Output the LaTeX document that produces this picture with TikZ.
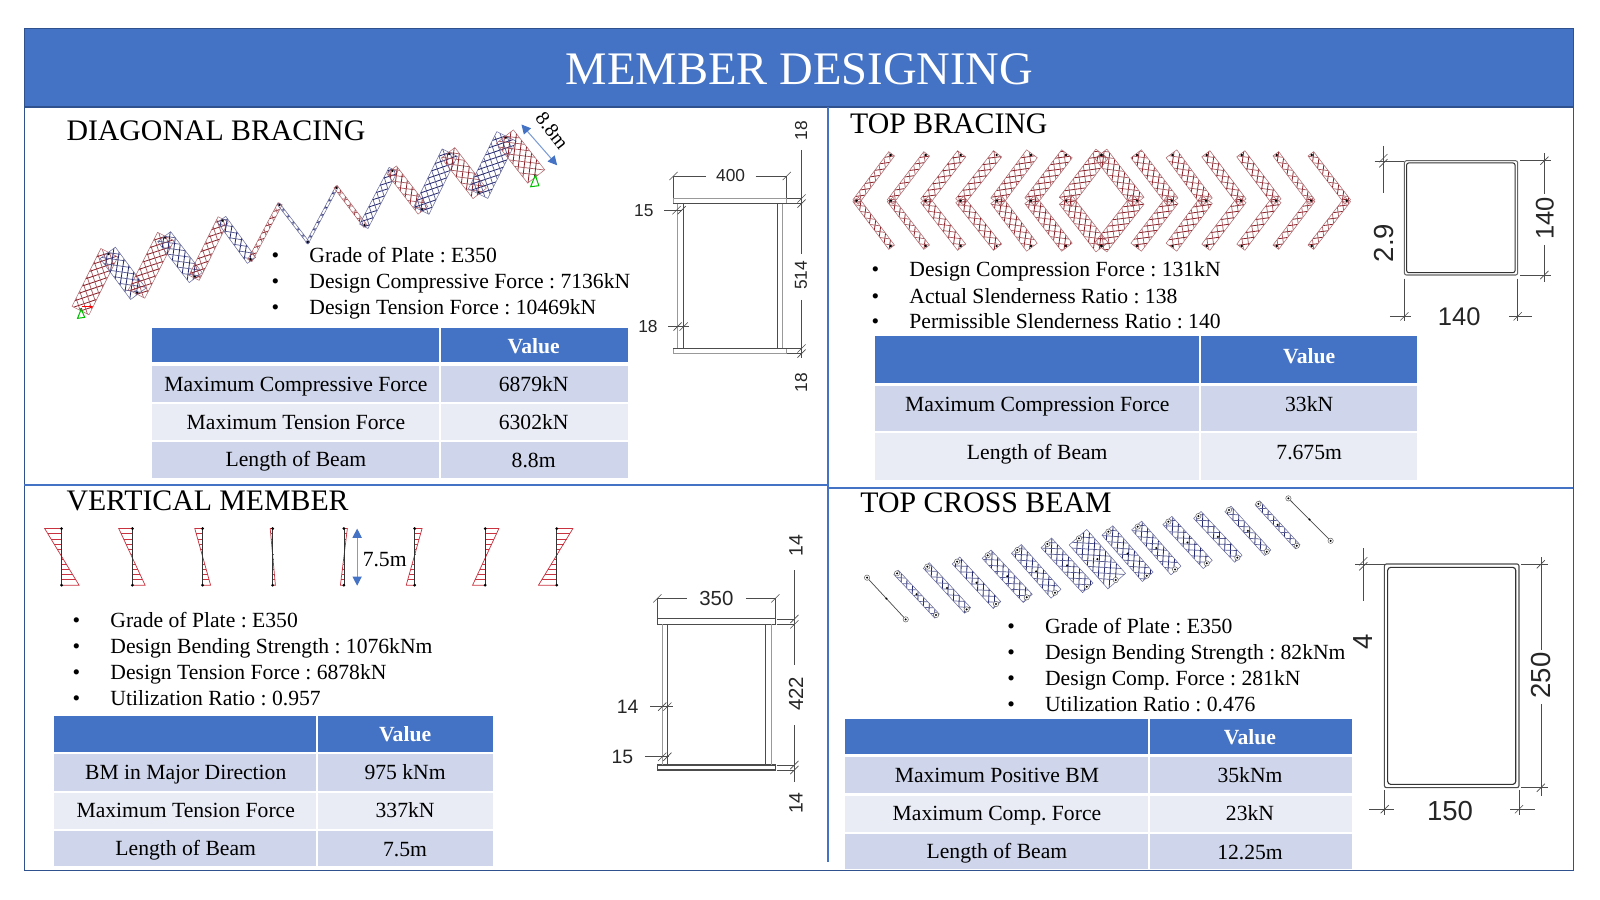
\documentclass[tikz,border=0pt]{standalone}
\usepackage{fontspec}
\setmainfont{Liberation Serif}
\newfontfamily\dimfont{Liberation Sans}
\frenchspacing
\usetikzlibrary{arrows.meta}
\definecolor{bandblue}{HTML}{4472C4}
\definecolor{frameblue}{HTML}{2F528F}
\definecolor{rowdark}{HTML}{CFD5EA}
\definecolor{rowlight}{HTML}{E9EBF5}
\definecolor{memred}{HTML}{8A2229}
\definecolor{memblue}{HTML}{24286E}
\definecolor{momentred}{HTML}{C9333F}
\tikzset{
  secthead/.style={anchor=west,inner sep=0pt,font=\fontsize{29.2}{34}\selectfont},
  bodyline/.style={anchor=west,inner sep=0pt,text height=19pt,text depth=5pt,font=\frenchspacing\fontsize{21.2}{25}\selectfont},
  cellhead/.style={inner sep=0pt,text=white,text height=19pt,text depth=5pt,font=\bfseries\fontsize{21.2}{25}\selectfont},
  celltext/.style={inner sep=0pt,text height=19pt,text depth=5pt,font=\frenchspacing\fontsize{21.2}{25}\selectfont},
  dimtext/.style={inner sep=0pt,text=black!85,font=\dimfont\fontsize{#1}{#1}\selectfont},
  dimline/.style={draw=black!70,line width=0.6pt},
  platein/.style={draw=black!70,line width=1pt},
  plateout/.style={draw=black!40,line width=1pt},
  sizearrow/.style={draw=bandblue!70,line width=1pt,{Triangle[color=bandblue,length=9pt,width=9pt]}-{Triangle[color=bandblue,length=9pt,width=9pt]}},
}
% one hatched force strip along a member: x1 y1 x2 y2 half-width colour
\newcommand{\hatchbar}[6]{
  \pgfmathsetmacro{\barlen}{veclen(#3-#1,#4-#2)}
  \pgfmathsetmacro{\barang}{atan2(#2-#4,#3-#1)}
  \pgfmathtruncatemacro{\barn}{\barlen/8+1}
  \begin{scope}[shift={(#1,#2)},rotate=\barang]
    \begin{scope}
      \clip (-1.5,-#5) rectangle (\barlen+1.5,#5);
      \foreach \k in {0,...,\barn}{
        \draw[#6,line width=0.8pt] (\k*8-#5-2,-#5) -- (\k*8+#5-2,#5);
        \draw[#6!75,line width=0.7pt] (\k*8+#5-2,-#5) -- (\k*8-#5-2,#5);
      }
    \end{scope}
    \draw[#6!70,line width=0.5pt] (-1.5,-#5) rectangle (\barlen+1.5,#5);
  \end{scope}
}
% moment diagram of one column: x, top offset, bottom offset
\newcommand{\momentdia}[3]{
  \foreach \t in {0.09,0.18,...,0.95}{
    \draw[momentred,line width=0.5pt] (#1,518+55.5*\t) -- ({#1+(#2)+((#3)-(#2))*\t},518+55.5*\t);
  }
  \draw[momentred,line width=0.7pt] (#1,518) -- (#1+#2,518) -- (#1+#3,573.5) -- (#1,573.5);
  \draw[black!80,line width=0.6pt] (#1,518) -- (#1,573.5);
  \fill (#1,518) circle (1.5) (#1,573.5) circle (1.5);
}
% short slanted dimension tick
\newcommand{\dimtick}[2]{\draw[dimline] (#1-4,#2+4) -- (#1+4,#2-4);}
% table row: name x0 xmid x1 y0 y1 fill texts
\newcommand{\tablerow}[9]{
  \fill[#7] (#2,#5) rectangle (#3-1,#6);
  \fill[#7] (#3+1,#5) rectangle (#4,#6);
  \node[#8] (#1a) at ({(#2+#3)/2},{(#5+#6)/2}) {#9};
}
\begin{document}
\begin{tikzpicture}[x=1pt,y=-1pt]
\useasboundingbox (0,0) rectangle (1568,882);
\fill[white] (0,0) rectangle (1568,882);
% frame and title
\draw[frameblue,line width=1.5pt] (24,28) rectangle (1542,853);
\draw[frameblue,line width=1.5pt,fill=bandblue] (24,28) rectangle (1542,105);
\node[text=white,font=\fontsize{45.7}{50}\selectfont] (title) at (783.5,68) {MEMBER DESIGNING};
\draw[bandblue,line width=2pt] (811,105) -- (811,845);
\draw[bandblue,line width=2pt] (24,475) -- (811,475);
\draw[bandblue,line width=2pt] (811,478) -- (1542,478);

% diagonal bracing
\node[secthead] (diaghead) at (65,128) {DIAGONAL BRACING};
\hatchbar{79.6}{303}{106.5}{249}{9.3}{memred}
\hatchbar{106.5}{249}{134.6}{286.8}{9.3}{memblue}
\hatchbar{134.6}{286.8}{161.8}{233.1}{9}{memred}
\hatchbar{161.8}{233.1}{190.9}{270.9}{8}{memblue}
\hatchbar{190.9}{270.9}{218.1}{216.2}{5.6}{memred}
\hatchbar{218.1}{216.2}{245.6}{254}{5}{memblue}
\hatchbar{245.6}{254}{273.8}{201}{2.3}{memred}
\hatchbar{273.8}{201}{301.6}{237.1}{1.3}{memblue}
\hatchbar{301.6}{237.1}{329.7}{184.1}{1.3}{memblue}
\hatchbar{329.7}{184.1}{357.2}{220.5}{2}{memred}
\hatchbar{357.2}{220.5}{384.7}{167.5}{4.6}{memblue}
\hatchbar{384.7}{167.5}{413.6}{205}{6}{memred}
\hatchbar{413.6}{205}{440.1}{150.9}{8.3}{memblue}
\hatchbar{440.1}{150.9}{469.2}{188.4}{8.3}{memred}
\hatchbar{469.2}{188.4}{495.7}{135}{10.6}{memblue}
\hatchbar{495.7}{135}{524.6}{171.8}{10.6}{memred}
\foreach \x/\y in {79.6/303,106.5/249,134.6/286.8,161.8/233.1,190.9/270.9,218.1/216.2,245.6/254,273.8/201,301.6/237.1,329.7/184.1,357.2/220.5,384.7/167.5,413.6/205,440.1/150.9,469.2/188.4,495.7/135,524.6/171.8}
  \fill (\x,\y) circle (1.2);
\draw[green!75!black,line width=1pt] (79.6,303) -- (76,312) -- (83,311) -- cycle;
\draw[green!75!black,line width=1pt] (524.6,171.8) -- (520,183) -- (528,182) -- cycle;
\draw[red,line width=1pt,-{Stealth[length=4pt]}] (80.6,300.7) -- (91.5,300.7);
\coordinate (diagfrom) at (511,122);
\coordinate (diagto) at (546,162);
\draw[sizearrow] (diagfrom) -- (diagto);
\node[rotate=-52,font=\fontsize{19.5}{25}\selectfont,inner sep=0pt] (diaglen) at (541,128) {8.8m};
\foreach \y/\t [count=\i] in {250/Grade of Plate : E350,276/Design Compressive Force : 7136kN,301/Design Tension Force : 10469kN}{
  \node[bodyline] (diagdot\i) at (266,\y) {•};
  \node[bodyline] (diagline\i) at (303,\y) {\t};
}
\tablerow{diagr0}{149}{431}{615}{321}{355}{bandblue}{cellhead}{}
\node[cellhead] (diagv0) at (523,339) {Value};
\tablerow{diagr1}{149}{431}{615}{359}{394}{rowdark}{celltext}{Maximum Compressive Force}
\node[celltext] (diagv1) at (523,377) {6879kN};
\tablerow{diagr2}{149}{431}{615}{396}{431}{rowlight}{celltext}{Maximum Tension Force}
\node[celltext] (diagv2) at (523,414) {6302kN};
\tablerow{diagr3}{149}{431}{615}{433}{468}{rowdark}{celltext}{Length of Beam}
\node[celltext] (diagv3) at (523,451) {8.8m};
% diagonal bracing section
\draw[plateout] (660,194.5) rectangle (771,199.5);
\draw[platein] (660,199.5) -- (771,199.5);
\draw[plateout] (660,341.5) rectangle (771,346.5);
\draw[platein] (660,341.5) -- (771,341.5);
\draw[plateout] (664,199.5) -- (664,341.5) (767,199.5) -- (767,341.5);
\draw[platein] (669.7,199.5) -- (669.7,341.5) (761.8,199.5) -- (761.8,341.5);
\draw[dimline] (660,194) -- (660,172.5) -- (691.6,172.5) (740.6,172.5) -- (771,172.5) -- (771,194);
\node[dimtext=17] (diagw) at (716,172.5) {400};
\dimtick{660}{172.5} \dimtick{771}{172.5}
\node[dimtext=17] (diagtw) at (631,206) {15};
\draw[dimline] (651,206) -- (668,206);
\dimtick{663}{206} \dimtick{668}{206}
\node[dimtext=17] (diagtf) at (635,320) {18};
\draw[dimline] (655,320) -- (675,320);
\dimtick{664}{320} \dimtick{670}{320}
\draw[dimline] (771,194.5) -- (786,194.5) (771,199.5) -- (786,199.5) (771,341.5) -- (786,341.5) (771,346.5) -- (786,346.5);
\draw[dimline] (785.5,147) -- (785.5,249) (785.5,294) -- (785.5,351);
\dimtick{785.5}{194.5} \dimtick{785.5}{199.5} \dimtick{785.5}{341.5} \dimtick{785.5}{346.5}
\node[dimtext=17,rotate=90] (diagh) at (785,270) {514};
\node[dimtext=17,rotate=90] (diagt1) at (785,128) {18};
\node[dimtext=17,rotate=90] (diagt2) at (785,375) {18};

% top bracing
\node[secthead] (tophead) at (833,121) {TOP BRACING};
\foreach \a/\e/\w in {839.5/872.9/3.5,873.2/907.2/3.5,907.2/941.5/5,941.5/976.7/5,977.1/1010.4/6.5,1010.4/1044.7/6.5,1045/1079/7.5,1114.3/1079.7/7.5,1148.3/1114.3/6.5,1181.9/1148.9/6.5,1216.2/1182.6/5,1250.5/1216.9/5,1284.8/1251.2/3.5,1319.8/1285.5/3.5}{
  \hatchbar{\a}{196.7}{\e}{151.9}{\w}{memred}
  \hatchbar{\a}{196.7}{\e}{241.1}{\w}{memred}
  \fill (\a,196.7) circle (1.3) (\e,151.9) circle (1.3) (\e,241.1) circle (1.3);
}
\foreach \y/\t [count=\i] in {264/Design Compression Force : 131kN,290/Actual Slenderness Ratio : 138,315/Permissible Slenderness Ratio : 140}{
  \node[bodyline] (topdot\i) at (854,\y) {•};
  \node[bodyline] (topline\i) at (891,\y) {\t};
}
\tablerow{topr0}{857}{1176}{1389}{329}{375}{bandblue}{cellhead}{}
\node[cellhead] (topv0) at (1283,349) {Value};
\tablerow{topr1}{857}{1176}{1389}{378}{422}{rowdark}{celltext,yshift=4pt}{Maximum Compression Force}
\node[celltext] (topv1) at (1283,396) {33kN};
\tablerow{topr2}{857}{1176}{1389}{424}{470}{rowlight}{celltext,yshift=4pt}{Length of Beam}
\node[celltext] (topv2) at (1283,443) {7.675m};
% top bracing section
\draw[black!60,line width=1pt,rounded corners=2pt] (1376.3,157.5) rectangle (1487.3,269.5);
\draw[black!80,line width=1pt,rounded corners=2pt] (1378.5,159.7) rectangle (1484.7,267.2);
\draw[dimline] (1355.7,143) -- (1355.7,189) (1347,158) -- (1376,158);
\dimtick{1355.7}{155} \dimtick{1355.7}{160}
\node[dimtext=27,rotate=90] (toptw) at (1356,238) {2.9};
\draw[dimline] (1376.3,273) -- (1376.3,315) (1362,310) -- (1383,310);
\draw[dimline] (1487.3,273) -- (1487.3,315) (1479,310) -- (1501,310);
\dimtick{1376.3}{310} \dimtick{1487.3}{310}
\node[dimtext=25] (topb) at (1430,310) {140};
\draw[dimline] (1490,157.5) -- (1520,157.5) (1490,269.5) -- (1520,269.5);
\draw[dimline] (1513.5,150) -- (1513.5,190) (1513.5,240) -- (1513.5,276);
\dimtick{1513.5}{157.5} \dimtick{1513.5}{269.5}
\node[dimtext=25,rotate=90] (toph) at (1514,214) {140};

% vertical member
\node[secthead] (verthead) at (65,491) {VERTICAL MEMBER};
\foreach \x/\a/\b in {60.3/-16.5/17.2,129.8/-13.4/12.4,198.5/-7.6/7.9,267.2/-2.4/2.7,337/3.4/-3.4,406.4/7.2/-8.3,475.5/13.4/-12.4,545.6/15.8/-17.9}
  \momentdia{\x}{\a}{\b}
\coordinate (vertfrom) at (350,518);
\coordinate (vertto) at (350,574);
\draw[sizearrow] (vertfrom) -- (vertto);
\node[celltext] (vertlen) at (377,548) {7.5m};
\foreach \y/\t [count=\i] in {608/Grade of Plate : E350,633/Design Bending Strength : 1076kNm,659/Design Tension Force : 6878kN,684/Utilization Ratio : 0.957}{
  \node[bodyline] (vertdot\i) at (71,\y) {•};
  \node[bodyline] (vertline\i) at (108,\y) {\t};
}
\tablerow{vertr0}{53}{311}{483}{702}{737}{bandblue}{cellhead}{}
\node[cellhead] (vertv0) at (397,720) {Value};
\tablerow{vertr1}{53}{311}{483}{739}{775}{rowdark}{celltext}{BM in Major Direction}
\node[celltext] (vertv1) at (397,757) {975 kNm};
\tablerow{vertr2}{53}{311}{483}{777}{812}{rowlight}{celltext}{Maximum Tension Force}
\node[celltext] (vertv2) at (397,794) {337kN};
\tablerow{vertr3}{53}{311}{483}{814}{849}{rowdark}{celltext}{Length of Beam}
\node[celltext] (vertv3) at (397,832) {7.5m};
% vertical member section
\draw[platein] (644.2,606.6) rectangle (759.8,611.9);
\draw[platein] (644.2,749.7) rectangle (759.8,754.6);
\draw[plateout] (649.1,611.9) -- (649.1,749.7) (755.6,611.9) -- (755.6,749.7);
\draw[platein] (654.3,611.9) -- (654.3,749.7) (750.4,611.9) -- (750.4,749.7);
\draw[dimline] (644.2,606) -- (644.2,586.4) -- (673,586.4) (731,586.4) -- (759.8,586.4) -- (759.8,606);
\node[dimtext=20] (vertw) at (702,586.4) {350};
\dimtick{644.2}{586.4} \dimtick{759.8}{586.4}
\node[dimtext=19] (verttw) at (615,692.5) {14};
\draw[dimline] (637,692.5) -- (660,692.5);
\dimtick{649}{692.5} \dimtick{654}{692.5}
\node[dimtext=19] (verttf) at (610,741.6) {15};
\draw[dimline] (632,741.6) -- (656,741.6);
\dimtick{649}{741.6} \dimtick{654}{741.6}
\draw[dimline] (761,606.6) -- (779,606.6) (761,611.9) -- (779,611.9) (761,749.7) -- (779,749.7) (761,754.6) -- (779,754.6);
\draw[dimline] (778.5,558.6) -- (778.5,651.7) (778.5,710.5) -- (778.5,766);
\dimtick{778.5}{606.6} \dimtick{778.5}{611.9} \dimtick{778.5}{749.7} \dimtick{778.5}{754.6}
\node[dimtext=20,rotate=90] (verth) at (780,680) {422};
\node[dimtext=19,rotate=90] (vertt1) at (780,535) {14};
\node[dimtext=19,rotate=90] (vertt2) at (780,787) {14};

% top cross beam
\node[secthead] (crosshead) at (843,493) {TOP CROSS BEAM};
\foreach \xa/\ya/\xb/\yb/\w in {879.1/561.9/917.3/602.7/3,908.8/555.3/947.3/597.2/4,937.9/550.4/976.1/591.9/5,967.9/544.2/1006.2/585.4/6,997/539/1033.9/580.8/6.5,1026.4/533.1/1065/575/7,1057.4/527.6/1093.4/568.4/11.5,1086.2/521/1123.8/564.2/7,1114.9/516.1/1151.5/558/6.5,1145/511.2/1182.6/552.1/6,1174.4/505.7/1212.6/546.5/5,1204.4/499.8/1241.4/540.6/4,1233.2/493.9/1270.8/534.8/3}{
  \hatchbar{\xa}{\ya}{\xb}{\yb}{\w}{memblue}
}
\draw[black!70,line width=0.7pt] (849.7,566.1) -- (887.6,607);
\draw[black!70,line width=0.7pt] (1262.6,488.4) -- (1304,530);
\foreach \xa/\ya/\xb/\yb in {849.7/566.1/887.6/607,879.1/561.9/917.3/602.7,908.8/555.3/947.3/597.2,937.9/550.4/976.1/591.9,967.9/544.2/1006.2/585.4,997/539/1033.9/580.8,1026.4/533.1/1065/575,1057.4/527.6/1093.4/568.4,1086.2/521/1123.8/564.2,1114.9/516.1/1151.5/558,1145/511.2/1182.6/552.1,1174.4/505.7/1212.6/546.5,1204.4/499.8/1241.4/540.6,1233.2/493.9/1270.8/534.8,1262.6/488.4/1304/530}{
  \draw[black!60,fill=white,line width=0.5pt] (\xa,\ya) circle (2.6) (\xb,\yb) circle (2.6);
  \fill (\xa,\ya) circle (1.1) (\xb,\yb) circle (1.1) ({(\xa+\xb)/2},{(\ya+\yb)/2}) circle (1.1);
}
\foreach \y/\t [count=\i] in {614/Grade of Plate : E350,639/Design Bending Strength : 82kNm,665/Design Comp. Force : 281kN,690/Utilization Ratio : 0.476}{
  \node[bodyline] (crossdot\i) at (987,\y) {•};
  \node[bodyline] (crossline\i) at (1024,\y) {\t};
}
\tablerow{crossr0}{828}{1126}{1325}{705}{739}{bandblue}{cellhead}{}
\node[cellhead] (crossv0) at (1225,723) {Value};
\tablerow{crossr1}{828}{1126}{1325}{742}{777}{rowdark}{celltext}{Maximum Positive BM}
\node[celltext] (crossv1) at (1225,760) {35kNm};
\tablerow{crossr2}{828}{1126}{1325}{780}{815}{rowlight}{celltext}{Maximum Comp. Force}
\node[celltext] (crossv2) at (1225,797) {23kN};
\tablerow{crossr3}{828}{1126}{1325}{817}{852}{rowdark}{celltext}{Length of Beam}
\node[celltext] (crossv3) at (1225,835) {12.25m};
% top cross beam section
\draw[black!70,line width=1.1pt,rounded corners=2pt] (1356.7,552.7) rectangle (1488.6,771.9);
\draw[black!80,line width=1.1pt,rounded corners=3pt] (1359.9,556) rectangle (1485.4,768.7);
\draw[dimline] (1336,537.4) -- (1336,588.6) (1328,553) -- (1357,553);
\dimtick{1336}{550} \dimtick{1336}{555}
\node[dimtext=27,rotate=90] (crosstw) at (1336,629) {4};
\draw[dimline] (1357,774) -- (1357,799) (1342,793) -- (1366,793);
\draw[dimline] (1488.6,774) -- (1488.6,799) (1480,793) -- (1504,793);
\dimtick{1357}{793} \dimtick{1488.6}{793}
\node[dimtext=27] (crossb) at (1421,795) {150};
\draw[dimline] (1491,553) -- (1517,553) (1491,772) -- (1517,772);
\draw[dimline] (1510,546) -- (1510,637) (1510,690) -- (1510,780);
\dimtick{1510}{553} \dimtick{1510}{772}
\node[dimtext=27,rotate=90] (crossh) at (1510,662) {250};
\end{tikzpicture}
\end{document}
